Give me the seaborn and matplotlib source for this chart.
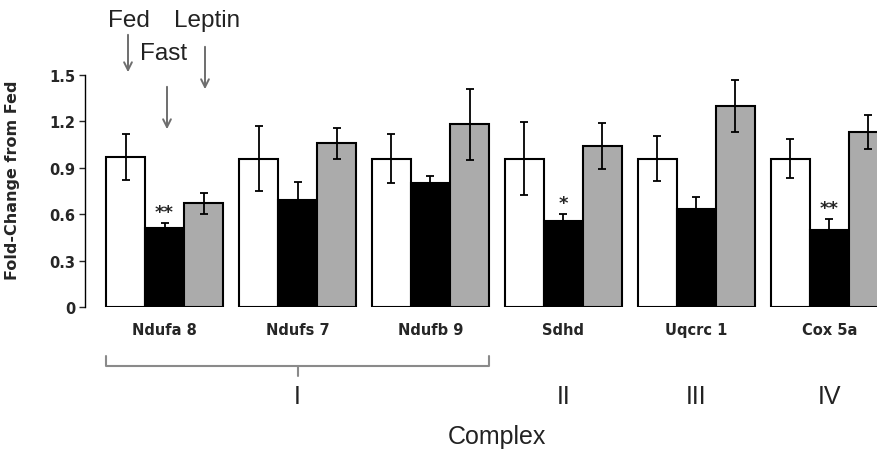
"""Fold-change bar chart of mitochondrial complex genes (Fed / Fast / Leptin)."""

import matplotlib
matplotlib.use("Agg")
import matplotlib.pyplot as plt
import numpy as np
import pandas as pd
import seaborn as sns

# ---------- data ----------
genes = ["Ndufa 8", "Ndufs 7", "Ndufb 9", "Sdhd", "Uqcrc 1", "Cox 5a"]
conditions = ["Fed", "Fast", "Leptin"]
fed_mean = [0.97, 0.96, 0.96, 0.96, 0.96, 0.96]
fed_err = [0.15, 0.21, 0.16, 0.235, 0.145, 0.125]
fast_mean = [0.51, 0.69, 0.80, 0.555, 0.635, 0.50]
fast_err = [0.03, 0.12, 0.05, 0.045, 0.075, 0.07]
leptin_mean = [0.67, 1.06, 1.18, 1.04, 1.30, 1.13]
leptin_err = [0.07, 0.10, 0.23, 0.15, 0.17, 0.11]
stars = ["**", "", "", "*", "", "**"]  # above the Fast bars
complexes = ["I", "II", "III", "IV"]
complex_pos = [1, 3, 4, 5]  # gene index under which the complex label sits

sns.set_theme(style="white")
plt.rcParams["font.family"] = ["DejaVu Sans"]

df = pd.DataFrame({
    "gene": genes * 3,
    "cond": np.repeat(conditions, len(genes)),
    "value": fed_mean + fast_mean + leptin_mean,
})
errs = [fed_err, fast_err, leptin_err]

fig = plt.figure(figsize=(8.78, 4.52), dpi=100)
ax = fig.add_axes([85 / 878, 144 / 452, 793 / 878, 232 / 452])

sns.barplot(data=df, x="gene", y="value", hue="cond", order=genes,
            hue_order=conditions, palette=["white", "black", "#ababab"],
            edgecolor="black", linewidth=1.5, width=0.88, gap=0,
            legend=False, errorbar=None, ax=ax)

# error bars and significance stars
for i, (cont, err, means) in enumerate(zip(ax.containers, errs,
                                           [fed_mean, fast_mean, leptin_mean])):
    xs = [p.get_x() + p.get_width() / 2 for p in cont.patches]
    ax.errorbar(xs, means, yerr=err, fmt="none", ecolor="black",
                elinewidth=1.3, capsize=3, capthick=1.3, zorder=5)
    if i == 1:
        for x, m, e, s in zip(xs, means, err, stars):
            if s:
                ax.text(x, m + e + 0.015, s, ha="center", va="bottom",
                        fontsize=13, fontweight="bold")

ax.set_ylim(0, 1.5)
ax.set_xlim(-0.598, 5.365)
ax.set_yticks([0, 0.3, 0.6, 0.9, 1.2, 1.5])
ax.set_yticklabels(["0", "0.3", "0.6", "0.9", "1.2", "1.5"],
                   fontsize=10.5, fontweight="bold")
ax.tick_params(axis="y", left=True, direction="out", length=4, width=1, pad=3)
ax.tick_params(axis="x", bottom=False, pad=5)
for lab in ax.get_xticklabels():
    lab.set_fontsize(10.5)
    lab.set_fontweight("bold")
sns.despine(ax=ax, bottom=True)
ax.spines["left"].set_color("black")
ax.spines["left"].set_linewidth(1)
ax.set_xlabel("")
ax.set_ylabel("Fold-Change from Fed", fontsize=11.5, fontweight="bold")
ax.yaxis.set_label_coords(-0.082, 0.55)

# condition labels with arrows (figure pixels, origin bottom-left)
H = 452
arrow_kw = dict(arrowstyle="->", color="#6e6e6e", lw=1.4, mutation_scale=14)
labels = [("Fed", 129, 21, 128, 33, 76),
          ("Fast", 164, 54, 167, 85, 133),
          ("Leptin", 207, 21, 205, 45, 93)]
for txt, tx, ty, ax_x, y0, y1 in labels:
    fig.text(tx / 878, (H - ty) / H, txt, ha="center", va="center",
             fontsize=17.5, family="Liberation Sans", color="#222222")
    ax.annotate("", xy=(ax_x, H - y1), xycoords="figure pixels",
                xytext=(ax_x, H - y0), textcoords="figure pixels",
                arrowprops=arrow_kw)

# bracket for complex I
trans = ax.get_xaxis_transform()
yb = (308 - 367) / 232
ye = (308 - 357) / 232
yt = (308 - 377) / 232
ax.plot([-0.44, -0.44, 2.44, 2.44], [ye, yb, yb, ye], color="#8a8a8a",
        lw=1.5, transform=trans, clip_on=False)
ax.plot([1, 1], [yb, yt], color="#8a8a8a", lw=1.5, transform=trans, clip_on=False)

for c, pos in zip(complexes, complex_pos):
    ax.text(pos, (308 - 397) / 232, c, transform=trans, ha="center", va="center",
            fontsize=18, family="Liberation Sans", color="#222222")
ax.text(2.5, (308 - 437) / 232, "Complex", transform=trans, ha="center",
        va="center", fontsize=18, family="Liberation Sans", color="#222222")

fig.savefig("out.png", dpi=100)
